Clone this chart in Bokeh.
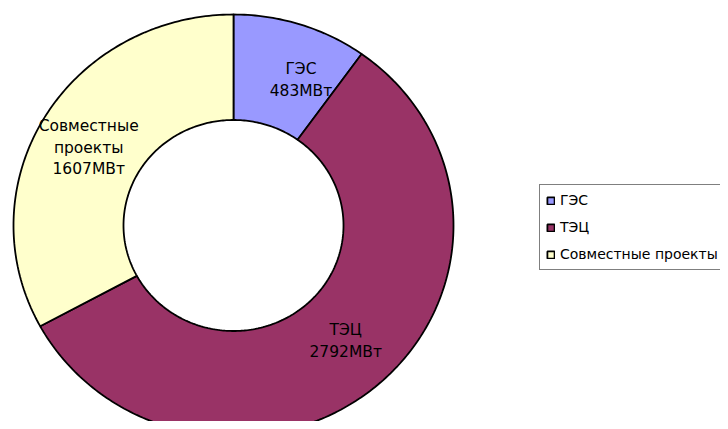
import numpy as np
from bokeh.plotting import figure
from bokeh.models import Range1d, ColumnDataSource, Legend, LegendItem
from bokeh.core.properties import value
from bokeh.embed import file_html
from bokeh.resources import INLINE

# ---- data ----
categories = ["ГЭС", "ТЭЦ", "Совместные проекты"]
label_texts = ["ГЭС\n483МВт", "ТЭЦ\n2792МВт", "Совместные\nпроекты\n1607МВт"]
values = [483, 2792, 1607]
colors = ["#9999FF", "#993366", "#FFFFCC"]

# ---- layout / style ----
W, H = 720, 421
CX, CY, RX, RY = 233, 225, 220, 211   # ring centre / radii in px
inner = 0.5
label_r = 0.75
label_dx = [17, 3, -3]   # px nudges like the original's label placement
label_dy = [5, -3, 3]

p = figure(width=W, height=H, output_backend="svg", toolbar_location=None,
           x_range=Range1d(-CX / RX, (W - CX) / RX),
           y_range=Range1d(-(H - CY) / RY, CY / RY),
           min_border=0, outline_line_color=None)
p.axis.visible = False
p.grid.visible = False

vals = np.array(values, dtype=float)
fr = vals / vals.sum()
ends = np.cumsum(fr) * 2 * np.pi
starts = ends - fr * 2 * np.pi

renderers = []
lx, ly = [], []
for i in range(len(values)):
    n = max(int(fr[i] * 400), 20)
    t = np.linspace(starts[i], ends[i], n)
    xs = np.concatenate([np.sin(t), inner * np.sin(t[::-1])])
    ys = np.concatenate([np.cos(t), inner * np.cos(t[::-1])])
    r = p.patch(xs, ys, fill_color=colors[i], line_color="black", line_width=1.8)
    renderers.append(r)
    mid = (starts[i] + ends[i]) / 2
    lx.append(label_r * np.sin(mid))
    ly.append(label_r * np.cos(mid))

src = ColumnDataSource(dict(x=lx, y=ly, t=label_texts, dx=label_dx, dy=label_dy))
p.text(x="x", y="y", text="t", x_offset="dx", y_offset="dy", source=src,
       text_font=value("DejaVu Sans"), text_font_size="15.5px",
       text_align="center", text_baseline="middle", text_color="black",
       text_line_height=1.2)

legend = Legend(items=[LegendItem(label=categories[i], renderers=[renderers[i]])
                       for i in range(len(categories))],
                location=(539, H - 270), orientation="vertical",
                label_text_font="DejaVu Sans", label_text_font_size="14px",
                label_text_color="black",
                glyph_width=9, glyph_height=9, label_height=18, label_standoff=5,
                spacing=9, padding=6, margin=0,
                border_line_color="black", border_line_width=1,
                background_fill_color="white", background_fill_alpha=1)
p.add_layout(legend)

open("out.html", "w").write(file_html(p, INLINE))
